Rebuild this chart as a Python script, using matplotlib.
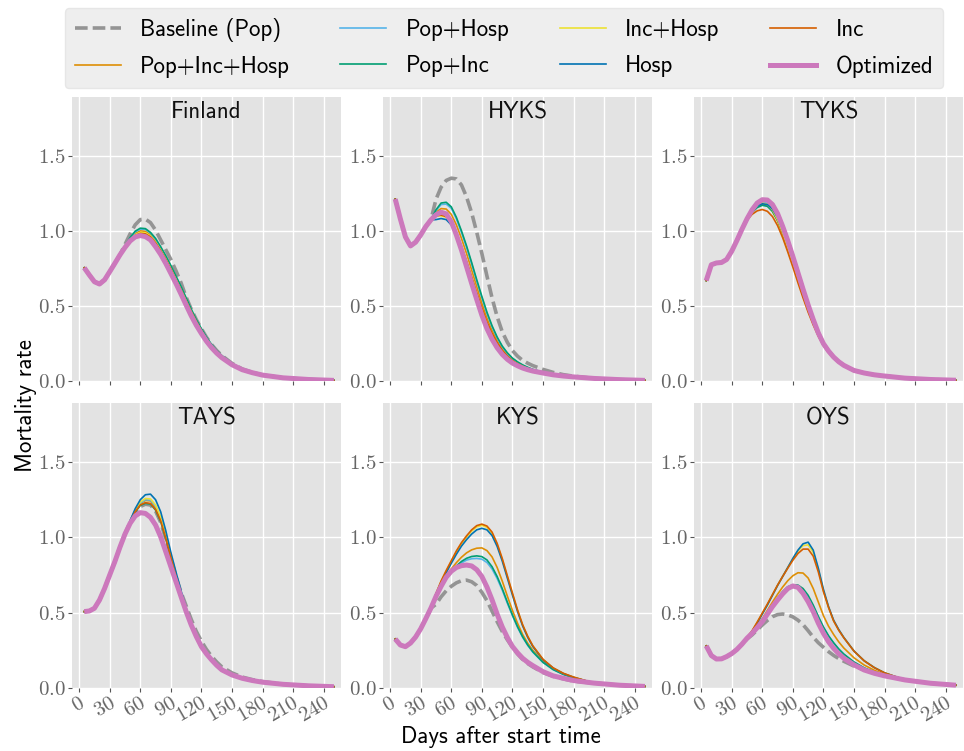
import matplotlib.pyplot as plt
from matplotlib.lines import Line2D

# x grid (days after start time)
days_early = [5, 10, 15, 20, 25, 30, 35, 40]
days_mid = [45, 50, 55, 60, 65, 70, 75, 80, 85, 90, 95, 100, 105, 110, 115, 120,
            125, 130, 135, 140, 150, 160, 170, 180]
days_late = [200, 225, 250]

labels = ["Baseline (Pop)", "Pop+Inc+Hosp", "Pop+Hosp", "Pop+Inc",
          "Inc+Hosp", "Hosp", "Inc", "Optimized"]
colors = ["#949494", "#de8f05", "#56b4e9", "#029e73",
          "#ece133", "#0173b2", "#d55e00", "#cc78bc"]
regions = ["Finland", "HYKS", "TYKS", "TAYS", "KYS", "OYS"]

# Finland
fin_early = [0.755, 0.707, 0.662, 0.647, 0.675, 0.729, 0.784, 0.84]
fin_late = [0.024, 0.013, 0.007]
fin_base = [0.91, 0.98, 1.04, 1.075, 1.078, 1.055, 1.005, 0.94, 0.875, 0.81, 0.735, 0.655, 0.56, 0.48, 0.41, 0.35, 0.293, 0.245, 0.205, 0.172, 0.12, 0.083, 0.06, 0.043]
fin_pih = [0.895, 0.945, 0.983, 1.0, 0.997, 0.975, 0.935, 0.88, 0.82, 0.755, 0.685, 0.615, 0.54, 0.468, 0.4, 0.34, 0.285, 0.238, 0.199, 0.167, 0.117, 0.081, 0.059, 0.043]
fin_ph = [0.9, 0.952, 0.993, 1.012, 1.01, 0.985, 0.945, 0.89, 0.83, 0.765, 0.695, 0.625, 0.55, 0.476, 0.407, 0.347, 0.29, 0.243, 0.203, 0.17, 0.119, 0.082, 0.06, 0.043]
fin_pi = [0.9, 0.955, 0.998, 1.018, 1.015, 0.99, 0.95, 0.895, 0.835, 0.77, 0.7, 0.63, 0.555, 0.48, 0.41, 0.35, 0.293, 0.245, 0.205, 0.172, 0.12, 0.083, 0.06, 0.043]
fin_ih = [0.893, 0.94, 0.975, 0.99, 0.987, 0.965, 0.925, 0.872, 0.813, 0.748, 0.678, 0.608, 0.535, 0.463, 0.396, 0.337, 0.282, 0.236, 0.198, 0.166, 0.116, 0.08, 0.059, 0.043]
fin_h = [0.891, 0.935, 0.966, 0.978, 0.975, 0.955, 0.915, 0.863, 0.805, 0.74, 0.67, 0.6, 0.528, 0.457, 0.39, 0.332, 0.278, 0.233, 0.195, 0.164, 0.115, 0.08, 0.059, 0.042]
fin_i = [0.892, 0.937, 0.97, 0.983, 0.98, 0.96, 0.92, 0.868, 0.81, 0.745, 0.675, 0.605, 0.533, 0.462, 0.395, 0.336, 0.281, 0.236, 0.198, 0.166, 0.116, 0.08, 0.059, 0.043]
fin_opt = [0.89, 0.933, 0.96, 0.969, 0.962, 0.94, 0.895, 0.844, 0.784, 0.718, 0.651, 0.58, 0.507, 0.436, 0.373, 0.318, 0.267, 0.224, 0.188, 0.158, 0.111, 0.078, 0.058, 0.042]

# HYKS
hyk_early = [1.211, 1.08, 0.96, 0.9, 0.925, 0.973, 1.029, 1.073]
hyk_late = [0.02, 0.012, 0.007]
hyk_base = [1.21, 1.29, 1.335, 1.35, 1.345, 1.305, 1.225, 1.12, 0.99, 0.85, 0.7, 0.555, 0.43, 0.33, 0.26, 0.205, 0.168, 0.14, 0.121, 0.105, 0.08, 0.06, 0.045, 0.035]
hyk_pih = [1.125, 1.148, 1.145, 1.11, 1.04, 0.95, 0.85, 0.74, 0.63, 0.52, 0.42, 0.338, 0.27, 0.215, 0.175, 0.143, 0.121, 0.103, 0.088, 0.076, 0.059, 0.046, 0.036, 0.03]
hyk_ph = [1.135, 1.175, 1.178, 1.15, 1.08, 0.99, 0.89, 0.78, 0.665, 0.555, 0.45, 0.362, 0.29, 0.23, 0.186, 0.152, 0.128, 0.108, 0.092, 0.079, 0.061, 0.047, 0.037, 0.031]
hyk_pi = [1.14, 1.185, 1.19, 1.16, 1.09, 1.0, 0.9, 0.79, 0.675, 0.565, 0.46, 0.37, 0.295, 0.235, 0.19, 0.155, 0.13, 0.11, 0.094, 0.08, 0.062, 0.048, 0.038, 0.031]
hyk_ih = [1.098, 1.1, 1.09, 1.055, 0.985, 0.895, 0.795, 0.69, 0.585, 0.485, 0.392, 0.318, 0.256, 0.206, 0.167, 0.137, 0.117, 0.1, 0.086, 0.074, 0.058, 0.045, 0.036, 0.03]
hyk_h = [1.075, 1.082, 1.075, 1.04, 0.97, 0.88, 0.78, 0.675, 0.57, 0.472, 0.382, 0.31, 0.25, 0.2, 0.163, 0.134, 0.114, 0.097, 0.083, 0.072, 0.056, 0.044, 0.035, 0.03]
hyk_i = [1.1, 1.105, 1.095, 1.06, 0.99, 0.9, 0.8, 0.695, 0.59, 0.49, 0.395, 0.32, 0.258, 0.207, 0.168, 0.138, 0.117, 0.1, 0.086, 0.074, 0.058, 0.045, 0.036, 0.03]
hyk_opt = [1.107, 1.124, 1.113, 1.062, 0.973, 0.873, 0.762, 0.651, 0.544, 0.44, 0.351, 0.28, 0.224, 0.18, 0.147, 0.122, 0.104, 0.089, 0.078, 0.069, 0.056, 0.044, 0.036, 0.03]

# TYKS
tyk_early = [0.67, 0.775, 0.787, 0.79, 0.81, 0.865, 0.935, 1.01]
tyk_late = [0.022, 0.013, 0.008]
tyk_base = [1.08, 1.14, 1.185, 1.207, 1.205, 1.175, 1.115, 1.03, 0.935, 0.83, 0.722, 0.613, 0.508, 0.411, 0.322, 0.251, 0.202, 0.162, 0.131, 0.107, 0.073, 0.056, 0.044, 0.036]
tyk_pih = [1.075, 1.125, 1.16, 1.177, 1.168, 1.13, 1.065, 0.98, 0.882, 0.78, 0.673, 0.57, 0.473, 0.385, 0.308, 0.243, 0.196, 0.157, 0.128, 0.105, 0.072, 0.055, 0.043, 0.035]
tyk_ph = [1.078, 1.133, 1.172, 1.19, 1.183, 1.148, 1.085, 1.0, 0.905, 0.8, 0.695, 0.592, 0.492, 0.4, 0.316, 0.247, 0.199, 0.16, 0.13, 0.106, 0.072, 0.055, 0.043, 0.035]
tyk_pi = [1.075, 1.122, 1.155, 1.17, 1.163, 1.13, 1.07, 0.99, 0.895, 0.795, 0.69, 0.587, 0.488, 0.396, 0.313, 0.245, 0.197, 0.158, 0.128, 0.105, 0.072, 0.055, 0.043, 0.035]
tyk_ih = [1.077, 1.13, 1.167, 1.185, 1.176, 1.14, 1.075, 0.99, 0.89, 0.786, 0.678, 0.575, 0.477, 0.388, 0.31, 0.244, 0.196, 0.157, 0.128, 0.105, 0.072, 0.055, 0.043, 0.035]
tyk_h = [1.077, 1.128, 1.165, 1.18, 1.175, 1.145, 1.09, 1.01, 0.915, 0.812, 0.705, 0.6, 0.5, 0.405, 0.318, 0.248, 0.2, 0.16, 0.13, 0.106, 0.072, 0.055, 0.043, 0.035]
tyk_i = [1.07, 1.11, 1.133, 1.142, 1.13, 1.095, 1.035, 0.955, 0.86, 0.76, 0.655, 0.555, 0.46, 0.375, 0.3, 0.238, 0.192, 0.155, 0.126, 0.104, 0.071, 0.054, 0.043, 0.035]
tyk_opt = [1.08, 1.14, 1.185, 1.207, 1.205, 1.175, 1.115, 1.03, 0.935, 0.83, 0.722, 0.613, 0.508, 0.411, 0.322, 0.251, 0.202, 0.162, 0.131, 0.107, 0.073, 0.056, 0.044, 0.036]

# TAYS
tay_early = [0.507, 0.511, 0.529, 0.584, 0.661, 0.75, 0.838, 0.934]
tay_late = [0.024, 0.014, 0.008]
tay_base = [1.024, 1.1, 1.165, 1.205, 1.22, 1.215, 1.175, 1.1, 0.99, 0.86, 0.74, 0.635, 0.545, 0.455, 0.375, 0.31, 0.255, 0.21, 0.172, 0.14, 0.1, 0.072, 0.055, 0.042]
tay_pih = [1.024, 1.103, 1.175, 1.225, 1.245, 1.242, 1.202, 1.122, 1.003, 0.872, 0.744, 0.625, 0.517, 0.423, 0.344, 0.276, 0.227, 0.187, 0.151, 0.121, 0.087, 0.065, 0.05, 0.039]
tay_ph = [1.025, 1.104, 1.177, 1.228, 1.25, 1.247, 1.207, 1.127, 1.008, 0.875, 0.746, 0.627, 0.518, 0.424, 0.344, 0.276, 0.227, 0.187, 0.151, 0.121, 0.087, 0.065, 0.05, 0.039]
tay_pi = [1.024, 1.099, 1.168, 1.212, 1.226, 1.221, 1.181, 1.106, 0.992, 0.862, 0.738, 0.621, 0.514, 0.421, 0.343, 0.276, 0.227, 0.187, 0.151, 0.121, 0.087, 0.065, 0.05, 0.039]
tay_ih = [1.025, 1.105, 1.18, 1.235, 1.258, 1.255, 1.215, 1.135, 1.015, 0.88, 0.75, 0.63, 0.52, 0.425, 0.345, 0.277, 0.228, 0.187, 0.151, 0.121, 0.087, 0.065, 0.05, 0.039]
tay_h = [1.025, 1.11, 1.19, 1.25, 1.283, 1.287, 1.25, 1.17, 1.045, 0.9, 0.77, 0.645, 0.53, 0.43, 0.348, 0.279, 0.229, 0.188, 0.152, 0.122, 0.087, 0.065, 0.05, 0.039]
tay_i = [1.024, 1.1, 1.17, 1.215, 1.23, 1.225, 1.185, 1.11, 0.995, 0.865, 0.74, 0.622, 0.515, 0.422, 0.343, 0.276, 0.227, 0.187, 0.151, 0.121, 0.087, 0.065, 0.05, 0.039]
tay_opt = [1.022, 1.093, 1.142, 1.164, 1.159, 1.133, 1.082, 1.004, 0.905, 0.805, 0.706, 0.606, 0.507, 0.418, 0.341, 0.274, 0.226, 0.186, 0.15, 0.12, 0.086, 0.064, 0.049, 0.038]

# KYS
kys_early = [0.325, 0.285, 0.274, 0.298, 0.338, 0.393, 0.46, 0.53]
kys_late = [0.032, 0.018, 0.01]
kys_base = [0.555, 0.605, 0.645, 0.675, 0.698, 0.712, 0.716, 0.705, 0.68, 0.635, 0.58, 0.51, 0.44, 0.375, 0.32, 0.27, 0.226, 0.19, 0.162, 0.14, 0.102, 0.077, 0.06, 0.045]
kys_pih = [0.62, 0.685, 0.74, 0.79, 0.832, 0.868, 0.897, 0.917, 0.928, 0.93, 0.912, 0.87, 0.8, 0.71, 0.61, 0.515, 0.43, 0.355, 0.297, 0.25, 0.175, 0.125, 0.092, 0.068]
kys_ph = [0.615, 0.675, 0.724, 0.766, 0.802, 0.83, 0.849, 0.858, 0.86, 0.855, 0.833, 0.79, 0.727, 0.65, 0.563, 0.48, 0.403, 0.337, 0.283, 0.238, 0.169, 0.121, 0.09, 0.067]
kys_pi = [0.617, 0.678, 0.728, 0.772, 0.81, 0.84, 0.861, 0.873, 0.877, 0.872, 0.85, 0.805, 0.74, 0.66, 0.57, 0.485, 0.407, 0.34, 0.285, 0.24, 0.17, 0.122, 0.09, 0.067]
kys_ih = [0.625, 0.707, 0.775, 0.84, 0.903, 0.958, 1.003, 1.042, 1.07, 1.08, 1.067, 1.027, 0.952, 0.853, 0.74, 0.625, 0.515, 0.417, 0.34, 0.278, 0.189, 0.132, 0.096, 0.071]
kys_h = [0.623, 0.7, 0.765, 0.828, 0.888, 0.942, 0.985, 1.022, 1.05, 1.06, 1.05, 1.012, 0.94, 0.843, 0.73, 0.617, 0.508, 0.412, 0.336, 0.275, 0.187, 0.131, 0.095, 0.07]
kys_i = [0.627, 0.71, 0.78, 0.845, 0.91, 0.965, 1.01, 1.05, 1.078, 1.088, 1.075, 1.035, 0.96, 0.86, 0.745, 0.63, 0.518, 0.42, 0.343, 0.28, 0.19, 0.133, 0.097, 0.072]
kys_opt = [0.608, 0.675, 0.735, 0.775, 0.8, 0.812, 0.816, 0.81, 0.785, 0.74, 0.67, 0.585, 0.49, 0.405, 0.335, 0.275, 0.233, 0.197, 0.17, 0.148, 0.108, 0.08, 0.064, 0.049]

# OYS
oys_early = [0.279, 0.215, 0.192, 0.193, 0.208, 0.228, 0.255, 0.29]
oys_late = [0.053, 0.031, 0.018]
oys_base = [0.325, 0.352, 0.385, 0.418, 0.448, 0.473, 0.487, 0.491, 0.485, 0.472, 0.45, 0.42, 0.38, 0.337, 0.3, 0.27, 0.241, 0.216, 0.195, 0.177, 0.145, 0.12, 0.1, 0.082]
oys_pih = [0.33, 0.37, 0.415, 0.46, 0.515, 0.57, 0.622, 0.67, 0.712, 0.745, 0.765, 0.763, 0.73, 0.66, 0.57, 0.48, 0.41, 0.355, 0.306, 0.265, 0.2, 0.152, 0.117, 0.09]
oys_ph = [0.33, 0.364, 0.401, 0.443, 0.493, 0.545, 0.594, 0.634, 0.663, 0.675, 0.672, 0.65, 0.605, 0.542, 0.468, 0.4, 0.343, 0.297, 0.257, 0.223, 0.171, 0.132, 0.104, 0.084]
oys_pi = [0.33, 0.364, 0.402, 0.445, 0.495, 0.548, 0.598, 0.64, 0.672, 0.685, 0.683, 0.66, 0.615, 0.55, 0.475, 0.405, 0.347, 0.3, 0.259, 0.225, 0.172, 0.133, 0.105, 0.085]
oys_ih = [0.333, 0.378, 0.434, 0.494, 0.554, 0.618, 0.682, 0.741, 0.799, 0.856, 0.91, 0.945, 0.95, 0.9, 0.785, 0.645, 0.535, 0.445, 0.385, 0.334, 0.245, 0.18, 0.135, 0.1]
oys_h = [0.33, 0.375, 0.43, 0.49, 0.55, 0.615, 0.68, 0.74, 0.8, 0.86, 0.915, 0.957, 0.968, 0.915, 0.795, 0.655, 0.54, 0.45, 0.388, 0.335, 0.245, 0.18, 0.135, 0.1]
oys_i = [0.335, 0.38, 0.437, 0.497, 0.557, 0.62, 0.683, 0.74, 0.795, 0.848, 0.893, 0.922, 0.922, 0.875, 0.77, 0.64, 0.535, 0.445, 0.383, 0.333, 0.244, 0.18, 0.134, 0.1]
oys_opt = [0.33, 0.363, 0.4, 0.44, 0.49, 0.54, 0.584, 0.625, 0.66, 0.677, 0.668, 0.628, 0.573, 0.507, 0.43, 0.363, 0.307, 0.263, 0.227, 0.197, 0.153, 0.119, 0.097, 0.08]

panels = {
    "Finland": (fin_early, [fin_base, fin_pih, fin_ph, fin_pi, fin_ih, fin_h, fin_i, fin_opt], fin_late),
    "HYKS": (hyk_early, [hyk_base, hyk_pih, hyk_ph, hyk_pi, hyk_ih, hyk_h, hyk_i, hyk_opt], hyk_late),
    "TYKS": (tyk_early, [tyk_base, tyk_pih, tyk_ph, tyk_pi, tyk_ih, tyk_h, tyk_i, tyk_opt], tyk_late),
    "TAYS": (tay_early, [tay_base, tay_pih, tay_ph, tay_pi, tay_ih, tay_h, tay_i, tay_opt], tay_late),
    "KYS": (kys_early, [kys_base, kys_pih, kys_ph, kys_pi, kys_ih, kys_h, kys_i, kys_opt], kys_late),
    "OYS": (oys_early, [oys_base, oys_pih, oys_ph, oys_pi, oys_ih, oys_h, oys_i, oys_opt], oys_late),
}

plt.rcParams['font.family'] = 'cmss10'
plt.rcParams['axes.formatter.use_mathtext'] = True

fig, axes = plt.subplots(2, 3, figsize=(9.64, 7.51), dpi=100)
fig.subplots_adjust(left=0.0747, right=0.999, top=0.871, bottom=0.084,
                    wspace=0.156, hspace=0.077)

days = days_early + days_mid + days_late
for ax, name in zip(axes.flat, regions):
    early, series, late = panels[name]
    for k, mid in enumerate(series):
        y = early + mid + late
        if k == 0:
            ax.plot(days, y, color=colors[k], lw=2.6, ls=(0, (3.5, 1.4)), zorder=2)
        elif k == len(series) - 1:
            ax.plot(days, y, color=colors[k], lw=3.6, zorder=4, solid_capstyle='butt')
        else:
            ax.plot(days, y, color=colors[k], lw=1.2, zorder=3)
    ax.set_facecolor('#e3e3e3')
    ax.grid(True, color='white', lw=1.0)
    ax.set_axisbelow(True)
    for s in ax.spines.values():
        s.set_visible(False)
    ax.set_xlim(-7, 257)
    ax.set_ylim(0, 1.89)
    ax.set_xticks(range(0, 241, 30))
    ax.set_yticks([0.0, 0.5, 1.0, 1.5])
    ax.tick_params(colors='#555555', labelcolor='#666666', labelsize=15,
                   length=3, width=0.8, labelfontfamily='cmr10', pad=1.5)
    ax.text(0.5, 0.985, name, transform=ax.transAxes, ha='center', va='top',
            fontsize=16.5, color='#111111')

for ax in axes[0]:
    ax.tick_params(labelbottom=False)
for ax in axes[1]:
    for lab in ax.get_xticklabels():
        lab.set_rotation(30)
        lab.set_ha('right')
        lab.set_rotation_mode('anchor')

fig.text(26 / 964, 1 - 406 / 751, "Mortality rate", rotation=90,
         ha='center', va='center', fontsize=16.5)
fig.text(501 / 964, 1 - 737 / 751, "Days after start time",
         ha='center', va='center', fontsize=16.5)

handles = []
for k in range(len(labels)):
    if k == 0:
        handles.append(Line2D([], [], color=colors[k], lw=2.6, ls=(0, (3.5, 1.4))))
    elif k == len(labels) - 1:
        handles.append(Line2D([], [], color=colors[k], lw=3.6))
    else:
        handles.append(Line2D([], [], color=colors[k], lw=1.2))
leg = fig.legend(handles, labels, ncol=4, loc='upper center',
                 bbox_to_anchor=(504 / 964, 1 - 8 / 751), borderaxespad=0,
                 fontsize=16.5, handlelength=2.0, handletextpad=0.85,
                 columnspacing=2.2, labelspacing=0.6, borderpad=0.45,
                 frameon=True, fancybox=True)
leg.get_frame().set_facecolor('#eeeeee')
leg.get_frame().set_edgecolor('#e6e6e6')
leg.get_frame().set_alpha(1)

fig.savefig('out.png', dpi=100, facecolor='white')
